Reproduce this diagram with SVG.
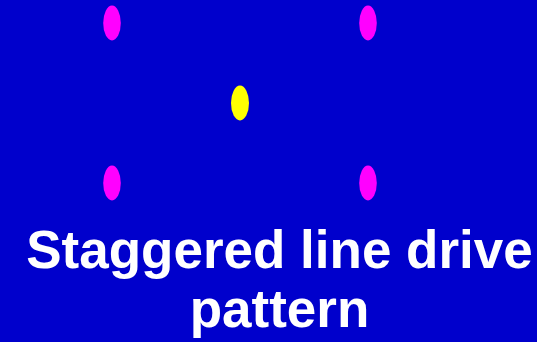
<svg xmlns="http://www.w3.org/2000/svg" width="537" height="342" viewBox="0 0 537 342">
<style>
.m{fill:#FF00FF}
.y{fill:#FFFF00}
.t{font-family:"Liberation Sans",Arial,sans-serif;font-weight:bold;font-size:53px;fill:#FFFFFF;text-anchor:middle}
</style>
<rect x="0" y="0" width="537" height="342" fill="#0000CC"/>
<g id="connectors"></g>
<g id="n1"><ellipse class="m" cx="112" cy="23" rx="8.8" ry="17.5"/></g>
<g id="n2"><ellipse class="m" cx="368" cy="23" rx="8.8" ry="17.5"/></g>
<g id="n3"><ellipse class="y" cx="240" cy="103" rx="9" ry="17.5"/></g>
<g id="n4"><ellipse class="m" cx="112" cy="183" rx="8.8" ry="17.5"/></g>
<g id="n5"><ellipse class="m" cx="368" cy="183" rx="8.8" ry="17.5"/></g>
<g id="title">
<text class="t" x="279.5" y="268">Staggered line drive</text>
<text class="t" x="279.5" y="327">pattern</text>
</g>
</svg>
